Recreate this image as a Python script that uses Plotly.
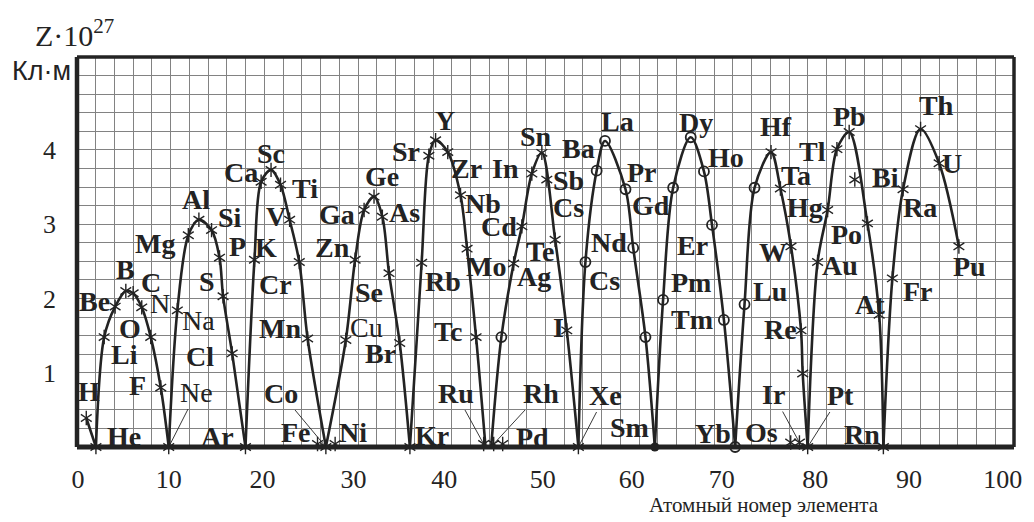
import plotly.graph_objects as go

# ---------------- data ----------------
# point keys (element symbols; keys starting with "_" are unlabeled points)
keys = ["H", "He", "Li", "Be", "B", "C", "N", "O", "F", "Ne",
        "Na", "Mg", "Al", "Si", "P", "S", "Cl", "Ar",
        "K", "Ca", "Sc", "Ti", "V", "Cr", "Mn", "Fe", "Co", "Ni",
        "Cu", "Zn", "Ga", "Ge", "As", "Se", "Br", "Kr",
        "Rb", "Sr", "Y", "Zr", "Nb", "Mo", "Tc", "Ru", "Rh", "Pd",
        "Ag", "Cd", "In", "Sn", "Sb", "Te", "I", "Xe",
        "Cs", "Ba", "La", "Pr", "Nd", "Pm", "Sm", "Gd", "Dy", "Ho", "Er", "Tm", "Yb", "Lu",
        "Hf", "Ta", "W", "Re", "Os", "Ir", "Pt",
        "Au", "Hg", "Tl", "Pb", "Bi", "Po", "At", "Rn",
        "Fr", "Ra", "Th", "U", "Pu",
        "_c1", "_c2", "_c3", "_s1", "_z1", "_z2"]

# position along the atomic-number axis (as drawn)
atomic_pos = [0.99, 2.02, 2.90, 4.07, 5.21, 5.99, 6.91, 7.87, 8.94, 9.79,
              10.71, 11.88, 13.01, 14.36, 15.21, 15.59, 16.56, 17.98,
              18.94, 19.65, 20.71, 21.72, 22.69, 23.72, 24.61, 25.67, 26.56, 27.55,
              28.69, 29.68, 30.64, 31.70, 32.59, 33.30, 34.44, 35.53,
              36.78, 37.55, 38.27, 39.57, 40.93, 41.63, 42.59, 43.40, 44.47, 45.43,
              46.60, 47.48, 48.54, 49.61, 50.14, 51.03, 52.27, 53.51,
              54.26, 55.46, 56.35, 58.54, 59.36, 62.55, 61.67, 63.62, 65.50, 66.91, 67.77, 69.04, 70.24, 71.24,
              74.07, 75.07, 76.20, 77.27, 76.17, 77.10, 77.98,
              79.04, 80.11, 81.10, 82.41, 83.01, 84.36, 85.61, 86.06,
              87.02, 88.16, 90.03, 92.01, 94.12,
              45.29, 60.67, 72.31, 77.45, 43.60, 44.20]

# Z * 10^27, C*m
z_values = [0.39, 0.00, 1.48, 1.89, 2.10, 2.07, 1.88, 1.48, 0.80, 0.00,
            1.84, 2.85, 3.06, 2.92, 2.55, 2.03, 1.26, 0.00,
            2.52, 3.57, 3.73, 3.53, 3.06, 2.49, 1.46, 0.04, 0.00, 0.04,
            1.44, 2.52, 3.19, 3.37, 3.10, 2.34, 1.40, 0.00,
            2.48, 3.92, 4.13, 3.97, 3.39, 2.67, 1.48, 0.04, 0.04, 0.04,
            2.47, 2.97, 3.68, 3.96, 3.60, 2.79, 1.57, 0.00,
            2.49, 3.72, 4.12, 3.47, 2.68, 1.98, 0.00, 3.49, 4.17, 3.71, 2.99, 1.71, 0.00, 1.92,
            3.97, 3.48, 2.70, 1.57, 0.06, 0.06, 0.00,
            2.49, 3.19, 4.01, 4.24, 3.60, 3.01, 1.78, 0.00,
            2.27, 3.47, 4.28, 3.82, 2.70,
            1.48, 1.48, 3.49, 0.99, 0.00, 0.00]

# marker kind: s = asterisk, o = open circle, d = filled circle, n = none
kinds = (["s"] * 54 +
         ["o", "o", "o", "o", "o", "o", "d", "o", "o", "o", "o", "o", "o", "o"] +
         ["s"] * 20 +
         ["o", "o", "o", "s", "n", "n"])

# the curve is drawn as separate arches between the zero points
arches = [
    ["H", "He"],
    ["He", "Li", "Be", "B", "C", "N", "O", "F", "Ne"],
    ["Ne", "Na", "Mg", "Al", "Si", "P", "S", "Cl", "Ar"],
    ["Ar", "K", "Ca", "Sc", "Ti", "V", "Cr", "Mn", "Co"],
    ["Co", "Cu", "Zn", "Ga", "Ge", "As", "Se", "Br", "Kr"],
    ["Kr", "Rb", "Sr", "Y", "Zr", "Nb", "Mo", "Tc", "_z1"],
    ["_z2", "_c1", "Ag", "Cd", "In", "Sn", "Te", "I", "Xe"],
    ["Xe", "Cs", "Ba", "La", "Pr", "Nd", "_c2", "Sm"],
    ["Sm", "Pm", "Gd", "Dy", "Ho", "Er", "Tm", "Yb"],
    ["Yb", "Lu", "_c3", "Hf", "Ta", "W", "Re", "_s1", "Pt"],
    ["Pt", "Au", "Hg", "Tl", "Pb", "Po", "At", "Rn"],
    ["Rn", "Fr", "Ra", "Th", "U", "Pu"],
]

xtick_text = ["0", "10", "20", "30", "40", "50", "60", "70", "80", "90", "100"]
xtick_pos = [0.1, 9.8, 19.8, 29.5, 39.2, 49.7, 59.2, 68.8, 78.8, 88.8, 98.8]
ytick_text = ["1", "2", "3", "4"]
ytick_vals = [1, 2, 3, 4]

# ---------------- label placement (pixel offsets from the point) ----------------
label_offsets = {
    "H": (3, -27), "He": (28, -11), "Li": (20, 17), "Be": (-21, -5), "B": (0, -22),
    "C": (18, -11), "N": (18, -4), "O": (-21, -9), "F": (-23, -2), "Ne": (28, -55),
    "Na": (21, 10), "Mg": (-33, 8), "Al": (-3, -20), "Si": (18, -13), "P": (18, -11),
    "S": (-16, -15), "Cl": (-32, 3), "Ar": (-28, -11), "K": (12, -12), "Ca": (-20, -9),
    "Sc": (0, -16), "Ti": (24, 4), "V": (-14, -3), "Cr": (-24, 22), "Mn": (-28, -10),
    "Fe": (-22, -12), "Co": (-45, -54), "Ni": (18, -12), "Cu": (21, -13), "Zn": (-23, -12),
    "Ga": (-27, 4), "Ge": (8, -20), "As": (22, -4), "Se": (-20, 19), "Br": (-19, 10),
    "Kr": (22, -12), "Rb": (21, 19), "Sr": (-23, -4), "Y": (9, -20), "Zr": (19, 16),
    "Nb": (22, 8), "Mo": (19, 18), "Tc": (-28, -6), "Ru": (-28, -51), "Rh": (47, -51),
    "Pd": (30, -7), "Ag": (20, 13), "Cd": (-23, 0), "In": (-26, -5), "Sn": (-6, -16),
    "Sb": (22, 1), "Te": (-15, 12), "I": (-8, -3), "Xe": (27, -52), "Cs": (19, 18),
    "Ba": (-18, -22), "La": (12, -19), "Pr": (16, -17), "Gd": (-22, 18), "Nd": (-24, -5),
    "Sm": (-25, -20), "Pm": (28, -17), "Dy": (5, -15), "Ho": (22, -14), "Er": (-20, 21),
    "Tm": (-32, 0), "Yb": (-22, -14), "Lu": (25, -13), "Hf": (5, -26), "Ta": (16, -13),
    "Hg": (-23, -3), "W": (-18, 6), "Re": (-21, -1), "Os": (-29, -10), "Ir": (-26, -48),
    "Pt": (33, -52), "Au": (22, 3), "Tl": (-24, 2), "Pb": (0, -16), "Bi": (31, -2),
    "Po": (-21, 11), "At": (-9, -10), "Rn": (-21, -13), "Fr": (26, 13), "Ra": (17, 18),
    "Th": (16, -24), "U": (13, 0), "Pu": (11, 20),
}
extra_labels = [("Cs", "Sb", 22, 28)]
leader_labels = {"Ne", "Co", "Ru", "Rh", "Xe", "Ir", "Pt"}
light_labels = {"N", "Na", "Ne", "Cu"}

INK = "#232323"
SERIF = "Liberation Serif, Times New Roman, serif"
LABEL_SIZE = 28
idx = {k: i for i, k in enumerate(keys)}

fig = go.Figure()

for arch in arches:
    fig.add_trace(go.Scatter(
        x=[atomic_pos[idx[k]] for k in arch],
        y=[z_values[idx[k]] for k in arch],
        mode="lines", line=dict(color=INK, width=2.6, shape="spline", smoothing=0.9),
        hoverinfo="skip", showlegend=False, cliponaxis=False))


def pts(kind):
    sel = [i for i, k in enumerate(kinds) if k == kind]
    return [atomic_pos[i] for i in sel], [z_values[i] for i in sel]


sx, sy = pts("s")
for sym in ["y-up-open", "y-down-open"]:
    fig.add_trace(go.Scatter(x=sx, y=sy, mode="markers",
                             marker=dict(symbol=sym, size=9, color=INK, line=dict(width=1.4, color=INK)),
                             hoverinfo="skip", showlegend=False, cliponaxis=False))
ox, oy = pts("o")
fig.add_trace(go.Scatter(x=ox, y=oy, mode="markers",
                         marker=dict(symbol="circle-open", size=10, color=INK, line=dict(width=1.8, color=INK)),
                         hoverinfo="skip", showlegend=False, cliponaxis=False))
dx_, dy_ = pts("d")
fig.add_trace(go.Scatter(x=dx_, y=dy_, mode="markers",
                         marker=dict(symbol="circle", size=9, color=INK),
                         hoverinfo="skip", showlegend=False, cliponaxis=False))
# invisible trace carrying the tick-label axis
fig.add_trace(go.Scatter(x=[0, 100], y=[0, 0], xaxis="x2", mode="lines",
                         line=dict(width=0, color="rgba(0,0,0,0)"), hoverinfo="skip", showlegend=False))

annotations = []


def add_label(text, key, dx, dy, light=False, leader=False):
    i = idx[key]
    font = dict(family=SERIF, size=LABEL_SIZE, color=INK, weight="normal" if light else "bold")
    if leader:
        annotations.append(dict(x=atomic_pos[i], y=z_values[i], xref="x", yref="y", text=text,
                                showarrow=True, arrowhead=0, arrowwidth=0.9, arrowcolor=INK,
                                ax=dx, ay=dy, standoff=0, font=font))
    else:
        annotations.append(dict(x=atomic_pos[i], y=z_values[i], xref="x", yref="y", text=text,
                                showarrow=False, xshift=dx, yshift=-dy, font=font))


for key, (dx, dy) in label_offsets.items():
    add_label(key, key, dx, dy, light=key in light_labels, leader=key in leader_labels)
for text, key, dx, dy in extra_labels:
    add_label(text, key, dx, dy)

# axis titles
annotations.append(dict(x=0, y=1, xref="paper", yref="paper", xanchor="left", yanchor="bottom",
                        xshift=-44, yshift=3, showarrow=False,
                        text="Z·10<sup>27</sup>", font=dict(family=SERIF, size=30, color=INK)))
annotations.append(dict(x=0, y=1, xref="paper", yref="paper", xanchor="right", yanchor="middle",
                        xshift=-4, yshift=-14, showarrow=False,
                        text="Кл·м", font=dict(family="Liberation Sans, Arial, sans-serif", size=27, color=INK)))
annotations.append(dict(x=0.733, y=0, xref="paper", yref="paper", xanchor="center", yanchor="middle",
                        yshift=-58, showarrow=False,
                        text="Атомный номер элемента", font=dict(family=SERIF, size=21, color=INK)))

ygrid = [i * 0.25 for i in range(22)]
ytext = [ytick_text[ytick_vals.index(v)] if v in ytick_vals else "" for v in ygrid]

shapes = [
    dict(type="line", xref="paper", yref="paper", x0=0, x1=0, y0=0, y1=1, line=dict(color=INK, width=4.5)),
    dict(type="line", xref="paper", yref="paper", x0=0, x1=1, y0=0, y1=0, line=dict(color=INK, width=5)),
    dict(type="line", xref="paper", yref="paper", x0=0, x1=1, y0=1, y1=1, line=dict(color=INK, width=3.5)),
    dict(type="line", xref="paper", yref="paper", x0=1, x1=1, y0=0, y1=1, line=dict(color=INK, width=3.5)),
]

# the page body adds an 8 px margin, so the figure is offset by 8 px inside the window
fig.update_layout(
    width=1026, height=514,
    margin=dict(l=69, r=17, t=49, b=75),
    paper_bgcolor="white", plot_bgcolor="white",
    showlegend=False,
    xaxis=dict(range=[0, 100], dtick=2, tick0=0, showgrid=True, gridcolor="#828282", gridwidth=1.1,
               showticklabels=False, zeroline=False, showline=False, ticks=""),
    xaxis2=dict(range=[0, 100], overlaying="x", anchor="y", side="bottom", tickmode="array",
                tickvals=xtick_pos, ticktext=xtick_text, showgrid=False, zeroline=False,
                showline=False, ticks="", ticklabelstandoff=14,
                tickfont=dict(family=SERIF, size=26, color=INK)),
    yaxis=dict(range=[0, 5.25], tickmode="array", tickvals=ygrid, ticktext=ytext,
               showgrid=True, gridcolor="#828282", gridwidth=1.1, zeroline=False, showline=False,
               ticks="", ticklabelstandoff=20, tickfont=dict(family=SERIF, size=26, color=INK)),
    annotations=annotations,
    shapes=shapes,
)

fig.write_html("out.html")
